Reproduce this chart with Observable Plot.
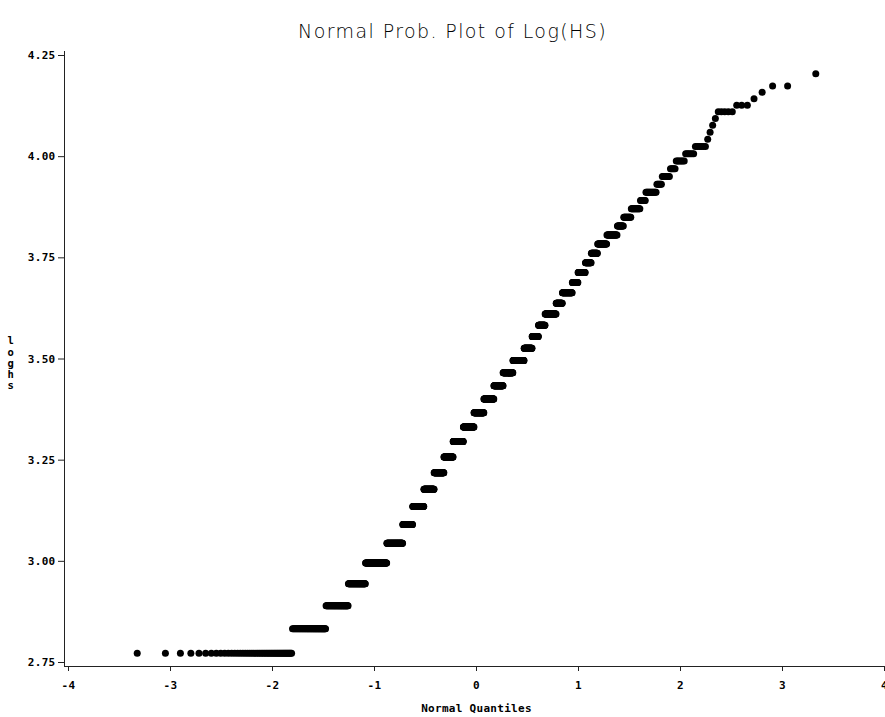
<!DOCTYPE html>
<html>
<head>
<meta charset="utf-8">
<script src="https://cdn.jsdelivr.net/npm/d3@7"></script>
<script src="https://cdn.jsdelivr.net/npm/@observablehq/plot@0.6"></script>
<style>
  html, body { margin: 0; padding: 0; background: #fff; }
</style>
</head>
<body>
<div id="chart"></div>
<script>
const hsLevels = [16,17,18,19,20,21,22,23,24,25,26,27,28,29,30,31,32,33,34,35,36,37,38,39,40,41,42,43,44,45,46,47,48,49,50,51,52,53,54,55,56,57,58,59,60,61,62,63,64,65,66,67];
const hsCounts = [50,49,49,48,73,64,44,53,51,51,49,56,59,55,55,50,52,57,39,30,30,47,25,37,20,24,18,18,24,24,13,14,15,8,14,6,8,5,7,6,6,1,1,1,1,5,3,1,1,2,0,1];
const xTicks = [-4,-3,-2,-1,0,1,2,3,4];
const yTicks = [2.75,3.00,3.25,3.50,3.75,4.00,4.25];
const titleText = "Normal Prob. Plot of Log(HS)";
const xLabel = "Normal Quantiles";
const yLabel = "loghs";

// inverse standard normal CDF (Acklam)
function qnorm(p) {
  const a = [-3.969683028665376e+01, 2.209460984245205e+02, -2.759285104469687e+02, 1.383577518672690e+02, -3.066479806614716e+01, 2.506628277459239e+00];
  const b = [-5.447609879822406e+01, 1.615858368580409e+02, -1.556989798598866e+02, 6.680131188771972e+01, -1.328068155288572e+01];
  const c = [-7.784894002430293e-03, -3.223964580411365e-01, -2.400758277161838e+00, -2.549732539343734e+00, 4.374664141464968e+00, 2.938163982698783e+00];
  const d = [7.784695709041462e-03, 3.224671290700398e-01, 2.445134137142996e+00, 3.754408661907416e+00];
  const pl = 0.02425, ph = 1 - pl;
  let q, r;
  if (p < pl) {
    q = Math.sqrt(-2 * Math.log(p));
    return (((((c[0]*q+c[1])*q+c[2])*q+c[3])*q+c[4])*q+c[5]) / ((((d[0]*q+d[1])*q+d[2])*q+d[3])*q+1);
  } else if (p <= ph) {
    q = p - 0.5; r = q * q;
    return (((((a[0]*r+a[1])*r+a[2])*r+a[3])*r+a[4])*r+a[5])*q / (((((b[0]*r+b[1])*r+b[2])*r+b[3])*r+b[4])*r+1);
  } else {
    q = Math.sqrt(-2 * Math.log(1 - p));
    return -(((((c[0]*q+c[1])*q+c[2])*q+c[3])*q+c[4])*q+c[5]) / ((((d[0]*q+d[1])*q+d[2])*q+d[3])*q+1);
  }
}

// Build observations: rank-based normal scores (Blom)
const n = d3.sum(hsCounts);
const points = [];
let rank = 0;
hsLevels.forEach((hs, i) => {
  for (let k = 0; k < hsCounts[i]; k++) {
    rank++;
    points.push({q: qnorm((rank - 0.375) / (n + 0.25)), loghs: Math.log(hs)});
  }
});

const W = 885, H = 717;
const chart = Plot.plot({
  width: W,
  height: H,
  marginLeft: 64,
  marginRight: 1,
  marginTop: 51,
  marginBottom: H - 666,
  style: {fontFamily: "'DejaVu Sans Mono', monospace", fontSize: "11px", fontWeight: "bold", color: "#000", background: "#fff", letterSpacing: "0.3px"},
  x: {domain: [-4, 4], insetLeft: 4, insetRight: 0},
  y: {domain: [2.75, 4.25], insetTop: 4, insetBottom: 4},
  marks: [
    Plot.axisX({ticks: xTicks, tickFormat: d => String(d), tickSize: 5, tickPadding: 10, label: null, stroke: "#222"}),
    Plot.axisY({ticks: yTicks, tickFormat: d3.format(".2f"), tickSize: 6, tickPadding: 3, label: null, stroke: "#222"}),
    Plot.frame({anchor: "left", stroke: "#222"}),
    Plot.frame({anchor: "bottom", stroke: "#222"}),
    Plot.dot(points, {x: "q", y: "loghs", r: 3.5, fill: "#000", stroke: "none"}),
    Plot.text([xLabel], {frameAnchor: "bottom", dx: 2, dy: 45, fontSize: 11, fontWeight: "bold"}),
    Plot.text([yLabel.split("").join("\n")], {frameAnchor: "left", dx: -57, dy: 4, lineHeight: 1.05, fontSize: 10.5, fontWeight: "bold"}),
    Plot.text([titleText], {frameAnchor: "top", dx: -22, dy: -27, fontSize: 19, fontWeight: 200, fontFamily: "'DejaVu Sans', sans-serif", fill: "#000"})
  ]
});
d3.select(chart).selectAll("text").filter(function() { return this.textContent === titleText; }).style("letter-spacing", "1.4px");
document.getElementById("chart").appendChild(chart);
</script>
</body>
</html>
